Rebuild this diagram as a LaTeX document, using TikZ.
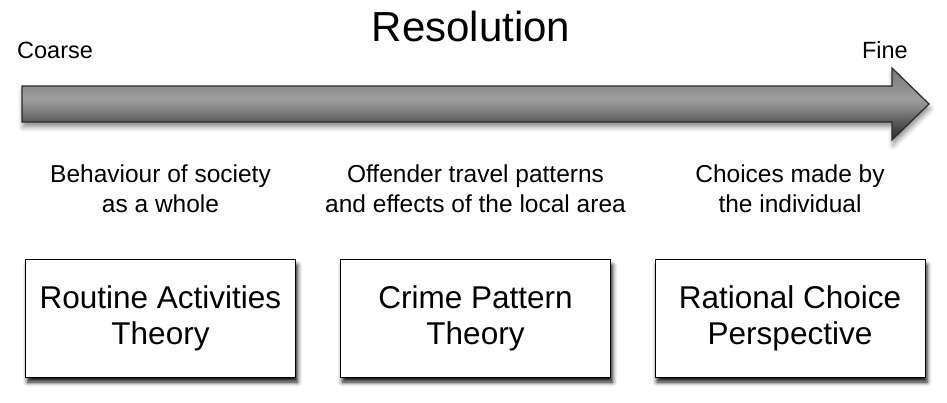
\documentclass[tikz,border=0pt]{standalone}
\usepackage{fontspec}
\setmainfont{Liberation Sans}
\usepackage{xcolor}
\usetikzlibrary{shadows.blur}
\usetikzlibrary{calc}

\definecolor{arrowline}{HTML}{2A2A2A}
% degrade de la fleche (25bp = bas, 75bp = haut)
\pgfdeclareverticalshading{arrowshade}{100bp}{%
  rgb(0bp)=(.17,.17,.17); rgb(25bp)=(.17,.17,.17);
  rgb(37.5bp)=(.35,.35,.35); rgb(47bp)=(.53,.53,.53);
  rgb(54bp)=(.62,.62,.62); rgb(62.5bp)=(.55,.55,.55);
  rgb(75bp)=(.47,.47,.47); rgb(100bp)=(.47,.47,.47)}

\tikzset{
  theorybox/.style={draw=black, line width=1pt, fill=white,
    minimum width=270pt, minimum height=117pt, inner sep=0pt,
    align=center, font=\fontsize{31.5}{36}\selectfont,
    blur shadow={shadow xshift=2pt, shadow yshift=-5pt,
      shadow blur radius=4.5pt, shadow opacity=95}},
  scalelabel/.style={align=center, font=\fontsize{24.5}{30}\selectfont},
  endlabel/.style={font=\fontsize{23.5}{28}\selectfont}
}

\begin{document}
\begin{tikzpicture}[x=1pt,y=-1pt]
\useasboundingbox (0,0) rectangle (947,403);
% la fleche
\coordinate (T1) at (22,86);
\coordinate (T2) at (22,122);
\coordinate (S1) at (892,86);
\coordinate (S2) at (892,122);
\coordinate (H1) at (892,68);
\coordinate (H2) at (892,140);
\coordinate (Tip) at (929,104);
\draw[draw=arrowline, line width=1.2pt, line join=miter, shading=arrowshade,
  blur shadow={shadow xshift=1pt, shadow yshift=-5pt,
    shadow blur radius=5pt, shadow opacity=45}]
  (T1)--(S1)--(H1)--(Tip)--(H2)--(S2)--(T2)--cycle;
\node[anchor=base, font=\fontsize{42}{48}\selectfont] (Res) at (471,42) {Resolution};
\node[endlabel, anchor=base west, inner sep=0pt] (Coarse) at (17,59) {Coarse};
\node[endlabel, anchor=base east, inner sep=0pt] (Fine) at (908,59) {Fine};
% les trois theories
\node[theorybox] (RA) at (160.5,318.5) {Routine Activities\\Theory};
\node[theorybox] (CP) at (475.5,318.5) {Crime Pattern\\Theory};
\node[theorybox] (RC) at (790,318.5) {Rational Choice\\Perspective};
\node[scalelabel] (dRA) at ($(RA)+(0,-130)$) {Behaviour of society\\as a whole};
\node[scalelabel] (dCP) at ($(CP)+(0,-130)$) {Offender travel patterns\\and effects of the local area};
\node[scalelabel] (dRC) at ($(RC)+(0,-130)$) {Choices made by\\the individual};
\end{tikzpicture}
\end{document}
